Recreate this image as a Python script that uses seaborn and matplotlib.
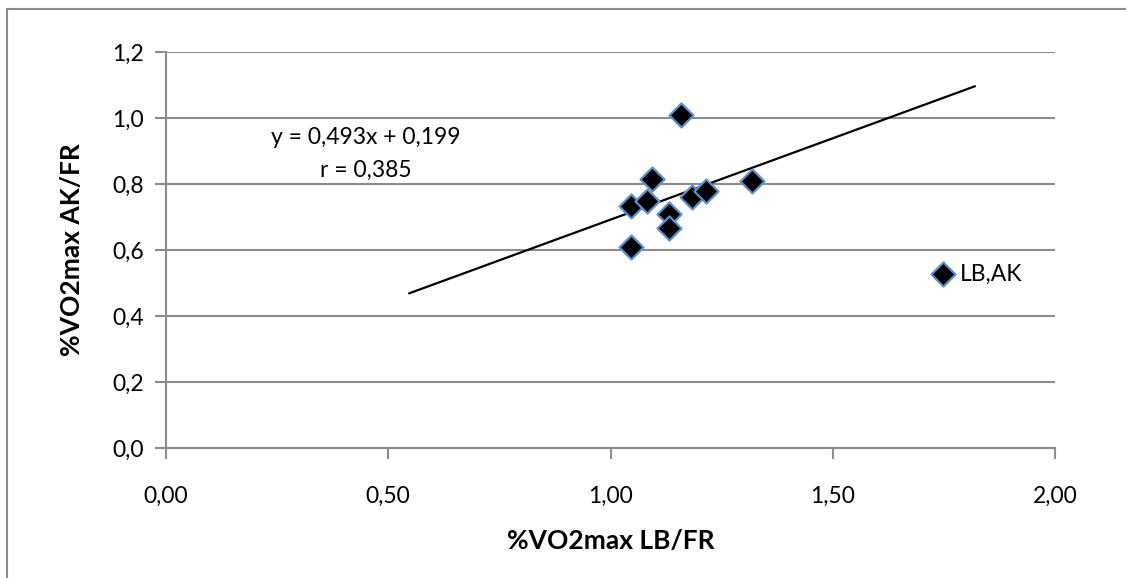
import matplotlib
matplotlib.use("Agg")
import matplotlib.pyplot as plt
import seaborn as sns
import pandas as pd
from matplotlib.patches import Rectangle

# Data
x_lb_fr = [1.093, 1.045, 1.081, 1.132, 1.131, 1.045, 1.184, 1.215, 1.318, 1.159, 1.749]
y_ak_fr = [0.814, 0.734, 0.748, 0.708, 0.666, 0.608, 0.760, 0.780, 0.809, 1.009, 0.526]
point_labels = ["", "", "", "", "", "", "", "", "", "", "LB,AK"]
trend_x = [0.547, 1.82]
slope = 0.493
intercept = 0.199
trend_y = [slope * v + intercept for v in trend_x]
eq_text = "y = 0,493x + 0,199"
r_text = "r = 0,385"
x_ticks = [0.0, 0.5, 1.0, 1.5, 2.0]
x_tick_labels = ["0,00", "0,50", "1,00", "1,50", "2,00"]
y_ticks = [0.0, 0.2, 0.4, 0.6, 0.8, 1.0, 1.2]
y_tick_labels = ["0,0", "0,2", "0,4", "0,6", "0,8", "1,0", "1,2"]
x_label = "%VO2max LB/FR"
y_label = "%VO2max AK/FR"

sns.set_theme(style="white")
plt.rcParams['font.family'] = ['Lato', 'DejaVu Sans']
plt.rcParams['text.color'] = 'black'
plt.rcParams['axes.labelcolor'] = 'black'
plt.rcParams['xtick.color'] = 'black'
plt.rcParams['ytick.color'] = 'black'

W, H = 1126, 578
fig = plt.figure(figsize=(W / 100, H / 100), dpi=100)
ax = fig.add_axes([166 / W, 1 - 448 / H, (1055 - 166) / W, (448 - 52) / H])

grid_c = "#8c8c8c"
for yv in y_ticks[1:]:
    ax.axhline(yv, color=grid_c, lw=1.5, zorder=0)

df = pd.DataFrame({"x": x_lb_fr, "y": y_ak_fr})
tdf = pd.DataFrame({"x": trend_x, "y": trend_y})
sns.lineplot(data=tdf, x="x", y="y", ax=ax, color="black", lw=1.6, zorder=2)
sns.scatterplot(data=df, x="x", y="y", ax=ax, marker="D", s=150,
                color="black", edgecolor="#5b8fcf", linewidth=1.6, zorder=3)

for xv, yv, lab in zip(x_lb_fr, y_ak_fr, point_labels):
    if lab:
        ax.annotate(lab, (xv, yv), xytext=(12, 0), textcoords="offset points",
                    va="center", ha="left", fontsize=16.5, color="black")

ax.text(0.45, 0.942, eq_text, ha="center", va="center", fontsize=16.5, color="black")
ax.text(0.45, 0.842, r_text, ha="center", va="center", fontsize=16.5, color="black")

ax.set_xlim(0, 2.0)
ax.set_ylim(0, 1.2)
ax.set_xticks(x_ticks)
ax.set_xticklabels(x_tick_labels, fontsize=16.5)
ax.set_yticks(y_ticks)
ax.set_yticklabels(y_tick_labels, fontsize=16.5)
ax.tick_params(axis="both", which="both", length=8, width=1.5, color=grid_c,
               labelcolor="black", direction="out", bottom=True, left=True)
ax.tick_params(axis="x", pad=19)
ax.tick_params(axis="y", pad=8)

for side in ["top", "right"]:
    ax.spines[side].set_visible(False)
for side in ["left", "bottom"]:
    ax.spines[side].set_color(grid_c)
    ax.spines[side].set_linewidth(1.5)

ax.set_xlabel(x_label, fontsize=19, fontweight="bold", labelpad=16, color="black")
ax.set_ylabel(y_label, fontsize=19, fontweight="bold", labelpad=20, color="black")

fig.patches.append(Rectangle((7 / W, -0.05), 1.1, 1 - 9 / H + 0.05,
                             transform=fig.transFigure, fill=False,
                             edgecolor=grid_c, lw=1.5))

fig.savefig("out.png", dpi=100)
